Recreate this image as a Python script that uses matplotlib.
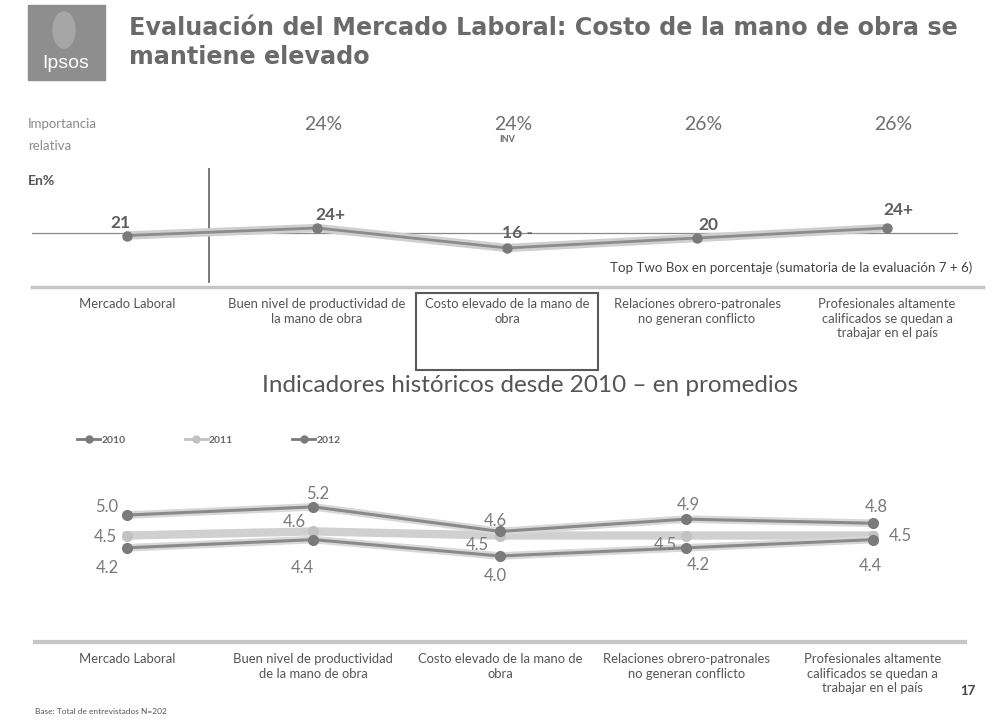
import matplotlib
matplotlib.use("Agg")
import matplotlib.pyplot as plt
import matplotlib.patches as mpatches
from matplotlib.transforms import blended_transform_factory
from matplotlib.lines import Line2D

# ── data ──────────────────────────────────────────────────────────────────────
CATS_TOP = [
    "Mercado Laboral",
    "Buen nivel de productividad de\nla mano de obra",
    "Costo elevado de la mano de\nobra",
    "Relaciones obrero-patronales\nno generan conflicto",
    "Profesionales altamente\ncalificados se quedan a\ntrabajar en el país",
]
CATS_BOTTOM = [
    "Mercado Laboral",
    "Buen nivel de productividad\nde la mano de obra",
    "Costo elevado de la mano de\nobra",
    "Relaciones obrero-patronales\nno generan conflicto",
    "Profesionales altamente\ncalificados se quedan a\ntrabajar en el país",
]
TOP_TWO_BOX = [21, 24, 16, 20, 24]
TOP_LABELS = ["21", "24+", "16 -", "20", "24+"]
IMPORTANCE = ["", "24%", "24%", "26%", "26%"]

YEARS = ["2010", "2011", "2012"]
AVG_2010 = [4.2, 4.4, 4.0, 4.2, 4.4]
AVG_2011 = [4.5, 4.6, 4.5, 4.5, 4.5]
AVG_2012 = [5.0, 5.2, 4.6, 4.9, 4.8]

# ── helpers ───────────────────────────────────────────────────────────────────
W, H = 996, 722
def fx(px): return px / W
def fy(py): return 1 - py / H

FONT = "Lato"
GREY_TXT = "#6f6f6f"
DARK = "#7a7a7a"

fig = plt.figure(figsize=(W / 100, H / 100), dpi=100)
fig.patch.set_facecolor("white")

# ── header ───────────────────────────────────────────────────────────────────
fig.patches.append(mpatches.Rectangle((fx(28), fy(80)), fx(77), 75 / H,
                                      transform=fig.transFigure,
                                      color="#8e8e8e", zorder=1))
fig.patches.append(mpatches.Ellipse((fx(64), fy(30)), fx(22), 36 / H,
                                    transform=fig.transFigure,
                                    color="#a6a6a6", zorder=2))
fig.text(fx(66), fy(63), "Ipsos", ha="center", va="center", fontsize=14,
         color="white", family="Liberation Sans", zorder=3)

title_kw = dict(fontsize=17.2, fontweight="bold", color="#6a6a6a",
                family="DejaVu Sans", va="baseline")
fig.text(fx(129), fy(35), "Evaluación del Mercado Laboral: Costo de la mano de obra se",
         **title_kw)
fig.text(fx(129), fy(64), "mantiene elevado", **title_kw)

fig.text(fx(28), fy(124), "Importancia", fontsize=9.5, color="#8a8a8a",
         family=FONT, va="center")
fig.text(fx(28), fy(146), "relativa", fontsize=9.5, color="#8a8a8a",
         family=FONT, va="center")
fig.text(fx(28), fy(181), "En%", fontsize=10, color="#555555",
         family=FONT, fontweight="bold", va="center")

# ── top panel: Top Two Box ───────────────────────────────────────────────────
ax1 = fig.add_axes([fx(32), fy(287), fx(951), 119 / H])
x = list(range(len(CATS_TOP)))
ax1.set_xlim(-0.5, 4.505)
ax1.set_ylim(0.4, 48)

ax1.axhline(22, xmin=0, xmax=0.973, color="#8a8a8a", lw=0.9, zorder=1)
ax1.axvline(0.43, ymin=0.04, ymax=1, color="#707070", lw=1.3, zorder=1)

ax1.plot(x, TOP_TWO_BOX, color="#cfcfcf", lw=6, solid_capstyle="round", zorder=2)
ax1.plot(x, TOP_TWO_BOX, color="#8c8c8c", lw=2, zorder=3)
ax1.plot(x, TOP_TWO_BOX, "o", color=DARK, ms=6.5, zorder=4)

top_offsets = [(-7, 13), (13, 13), (10, 15), (11, 13), (11, 18)]
for xi, yi, lab, off in zip(x, TOP_TWO_BOX, TOP_LABELS, top_offsets):
    ax1.annotate(lab, (xi, yi), xytext=off, textcoords="offset pixels",
                 ha="center", va="center", fontsize=12.5, fontweight="bold",
                 color="#5e5e5e", family=FONT, zorder=5)

# importance percentages above each attribute
hdr = blended_transform_factory(ax1.transData, fig.transFigure)
for xi, pct in zip(x, IMPORTANCE):
    if pct:
        ax1.text(xi + 0.03, fy(124), pct, transform=hdr, ha="center",
                 va="center", fontsize=14, color=GREY_TXT, family=FONT)
ax1.text(2, fy(140), "INV", transform=hdr, ha="center", va="center",
         fontsize=6.5, fontweight="bold", color="#666666", family=FONT)

ax1.text(0.989, 0.16, "Top Two Box en porcentaje (sumatoria de la evaluación 7 + 6)",
         transform=ax1.transAxes, ha="right", va="center", fontsize=9.6,
         color="#444444", family=FONT)

ax1.set_xticks(x)
ax1.set_xticklabels(CATS_TOP, fontsize=9.4, color="#555555", family=FONT,
                    linespacing=1.25)
ax1.tick_params(axis="x", length=0, pad=8)
ax1.set_yticks([])
for side in ("left", "right", "top"):
    ax1.spines[side].set_visible(False)
ax1.spines["bottom"].set_color("#c6c6c6")
ax1.spines["bottom"].set_linewidth(2.5)
ax1.patch.set_alpha(0)

# highlighted attribute box
box_tr = blended_transform_factory(ax1.transData, ax1.transAxes)
ax1.add_patch(mpatches.Rectangle((2 - 0.477, -0.70), 0.954, 0.65,
                                 transform=box_tr, fill=False,
                                 edgecolor="#5a5a5a", lw=1.5, clip_on=False))

fig.text(fx(530), fy(386), "Indicadores históricos desde 2010 – en promedios",
         ha="center", va="center", fontsize=17.5, color="#555555", family=FONT)

# ── bottom panel: historical averages ────────────────────────────────────────
ax2 = fig.add_axes([fx(35), fy(642), fx(930), 172 / H])
ax2.set_xlim(-0.493, 4.494)
ax2.set_ylim(1.9, 6.1)

ax2.plot(x, AVG_2011, color="#d0d0d0", lw=6, zorder=2)
ax2.plot(x, AVG_2011, "o", color="#c2c2c2", ms=7, zorder=3)
for series in (AVG_2010, AVG_2012):
    ax2.plot(x, series, color="#d8d8d8", lw=5.5, zorder=4)
    ax2.plot(x, series, color="#8a8a8a", lw=2.2, zorder=5)
    ax2.plot(x, series, "o", color=DARK, ms=7, zorder=6)

label_offsets = {
    "2012": [(-20, 8), (4, 13), (-5, 10), (2, 14), (3, 16)],
    "2011": [(-22, -1), (-19, 9), (-23, -9), (-21, -9), (27, 0)],
    "2010": [(-20, -20), (-11, -28), (-5, -20), (12, -17), (-3, -26)],
}
for year, series in zip(YEARS, (AVG_2010, AVG_2011, AVG_2012)):
    for xi, yi, off in zip(x, series, label_offsets[year]):
        ax2.annotate(f"{yi:.1f}", (xi, yi), xytext=off, textcoords="offset pixels",
                     ha="center", va="center", fontsize=12, color="#7a7a7a",
                     family=FONT, zorder=7)

ax2.set_xticks(x)
ax2.set_xticklabels(CATS_BOTTOM, fontsize=9.4, color="#555555", family=FONT,
                    linespacing=1.25)
ax2.tick_params(axis="x", length=0, pad=8)
ax2.set_yticks([])
for side in ("left", "right", "top"):
    ax2.spines[side].set_visible(False)
ax2.spines["bottom"].set_color("#c6c6c6")
ax2.spines["bottom"].set_linewidth(3)
ax2.patch.set_alpha(0)

handles = [
    Line2D([], [], color=DARK, lw=2, marker="o", ms=5),
    Line2D([], [], color="#c2c2c2", lw=2, marker="o", ms=5),
    Line2D([], [], color=DARK, lw=2, marker="o", ms=5),
]
fig.legend(handles, YEARS, loc="center left", bbox_to_anchor=(fx(68), fy(440)),
           ncol=3, frameon=False, handlelength=2.2, handletextpad=0.1,
           columnspacing=5.7, prop={"family": FONT, "size": 7.5,
                                    "weight": "bold"},
           labelcolor="#666666")

# ── footer ───────────────────────────────────────────────────────────────────
fig.text(fx(35), fy(712), "Base: Total de entrevistados N=202", fontsize=6,
         color="#555555", family=FONT, va="center")
fig.text(fx(968), fy(691), "17", fontsize=9.5, fontweight="bold",
         color="#444444", family=FONT, ha="center", va="center")

plt.savefig("out.png", dpi=100, facecolor="white")
